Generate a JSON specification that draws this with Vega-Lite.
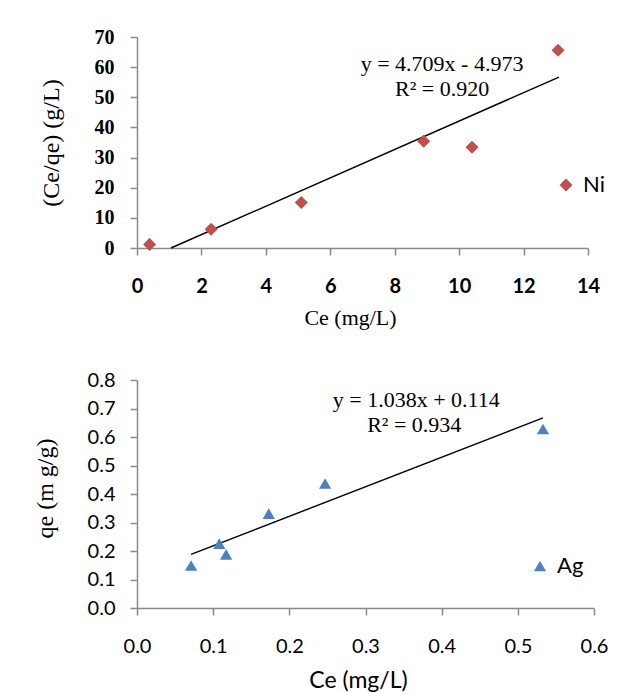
{
  "$schema": "https://vega.github.io/schema/vega-lite/v6.json",
  "background": "white",
  "padding": {"left": 33, "top": 27, "right": 0, "bottom": 0},
  "spacing": 42,
  "config": {
    "view": {"stroke": null},
    "axis": {"grid": false, "domainColor": "#8a8a8a", "tickColor": "#8a8a8a", "tickSize": 7, "labelColor": "black", "titleColor": "black", "titleFontWeight": "normal", "domainWidth": 1.5, "tickWidth": 1.5, "labelOverlap": false, "labelFlush": false}
  },
  "datasets": {
    "ni": [
      {"Ce": 0.39, "ratio": 1.2, "series": "Ni"},
      {"Ce": 2.3, "ratio": 6.2, "series": "Ni"},
      {"Ce": 5.1, "ratio": 15.1, "series": "Ni"},
      {"Ce": 8.9, "ratio": 35.4, "series": "Ni"},
      {"Ce": 10.4, "ratio": 33.4, "series": "Ni"},
      {"Ce": 13.07, "ratio": 65.6, "series": "Ni"}
    ],
    "nifit": [
      {"Ce": 1.056, "ratio": 0},
      {"Ce": 13.1, "ratio": 56.72}
    ],
    "nitext": [
      {"Ce": 9.47, "ratio": 61.0, "label": "y = 4.709x - 4.973"},
      {"Ce": 9.47, "ratio": 52.7, "label": "R² = 0.920"}
    ],
    "ag": [
      {"Ce": 0.071, "qe": 0.149, "series": "Ag"},
      {"Ce": 0.108, "qe": 0.226, "series": "Ag"},
      {"Ce": 0.117, "qe": 0.188, "series": "Ag"},
      {"Ce": 0.173, "qe": 0.331, "series": "Ag"},
      {"Ce": 0.247, "qe": 0.437, "series": "Ag"},
      {"Ce": 0.533, "qe": 0.628, "series": "Ag"}
    ],
    "agfit": [
      {"Ce": 0.071, "qe": 0.188},
      {"Ce": 0.533, "qe": 0.667}
    ],
    "agtext": [
      {"Ce": 0.3667, "qe": 0.7297, "label": "y = 1.038x + 0.114"},
      {"Ce": 0.364, "qe": 0.641, "label": "R² = 0.934"}
    ]
  },
  "vconcat": [
    {
      "width": 451,
      "height": 211,
      "encoding": {
        "x": {"field": "Ce", "type": "quantitative", "title": "Ce (mg/L)",
          "scale": {"domain": [0, 14], "nice": false},
          "axis": {"values": [0, 2, 4, 6, 8, 10, 12, 14], "labelOverlap": false, "labelFont": "Lato", "labelFontSize": 20, "labelFontWeight": "bold", "labelPadding": 21, "titleFont": "Liberation Serif", "titleFontSize": 22, "titlePadding": 11, "titleX": 213}},
        "y": {"field": "ratio", "type": "quantitative", "title": "(Ce/qe) (g/L)",
          "scale": {"domain": [0, 70], "nice": false},
          "axis": {"values": [0, 10, 20, 30, 40, 50, 60, 70], "labelOverlap": false, "labelFlush": false, "labelFont": "Liberation Serif", "labelFontSize": 20, "labelFontWeight": "bold", "labelPadding": 16, "titleFont": "Liberation Serif", "titleFontSize": 24, "titlePadding": 31}}
      },
      "layer": [
        {
          "data": {"name": "nifit"},
          "mark": {"type": "line", "color": "black", "strokeWidth": 1.4}
        },
        {
          "data": {"name": "ni"},
          "mark": {"type": "point", "filled": true, "opacity": 1, "size": 170},
          "encoding": {
            "color": {"field": "series", "type": "nominal", "scale": {"domain": ["Ni"], "range": ["#C0504D"]},
              "legend": {"orient": "none", "legendX": 418, "legendY": 137, "title": null, "symbolType": "diamond", "symbolSize": 170, "symbolOpacity": 1, "labelFont": "Lato", "labelFontSize": 22, "labelColor": "black", "labelOffset": 6, "padding": 0}},
            "shape": {"field": "series", "type": "nominal", "scale": {"domain": ["Ni"], "range": ["diamond"]}, "legend": null}
          }
        },
        {
          "data": {"name": "nitext"},
          "mark": {"type": "text", "font": "Liberation Serif", "fontSize": 22, "color": "black"},
          "encoding": {"text": {"field": "label"}}
        }
      ]
    },
    {
      "width": 457,
      "height": 228,
      "encoding": {
        "x": {"field": "Ce", "type": "quantitative", "title": "Ce (mg/L)",
          "scale": {"domain": [0, 0.6], "nice": false},
          "axis": {"values": [0, 0.1, 0.2, 0.3, 0.4, 0.5, 0.6], "format": ".1f", "labelOverlap": false, "labelFont": "Lato", "labelFontSize": 20, "labelPadding": 21, "titleFont": "Lato", "titleFontSize": 23, "titlePadding": 13, "titleX": 221}},
        "y": {"field": "qe", "type": "quantitative", "title": "qe (m g/g)",
          "scale": {"domain": [0, 0.8], "nice": false},
          "axis": {"values": [0, 0.1, 0.2, 0.3, 0.4, 0.5, 0.6, 0.7, 0.8], "format": ".1f", "labelOverlap": false, "labelFlush": false, "labelFont": "Lato", "labelFontSize": 20, "labelPadding": 15, "titleFont": "Liberation Serif", "titleFontSize": 24, "titlePadding": 30, "titleY": 108}}
      },
      "layer": [
        {
          "data": {"name": "agfit"},
          "mark": {"type": "line", "color": "black", "strokeWidth": 1.4}
        },
        {
          "data": {"name": "ag"},
          "mark": {"type": "point", "filled": true, "opacity": 1, "size": 150},
          "encoding": {
            "color": {"field": "series", "type": "nominal", "scale": {"domain": ["Ag"], "range": ["#4F81BD"]},
              "legend": {"orient": "none", "legendX": 392, "legendY": 175, "title": null, "symbolType": "triangle-up", "symbolSize": 150, "symbolOpacity": 1, "labelFont": "Lato", "labelFontSize": 22, "labelColor": "black", "labelOffset": 6, "padding": 0}},
            "shape": {"field": "series", "type": "nominal", "scale": {"domain": ["Ag"], "range": ["triangle-up"]}, "legend": null}
          }
        },
        {
          "data": {"name": "agtext"},
          "mark": {"type": "text", "font": "Liberation Serif", "fontSize": 22, "color": "black"},
          "encoding": {"text": {"field": "label"}}
        }
      ]
    }
  ],
  "resolve": {"scale": {"color": "independent", "shape": "independent"}}
}
